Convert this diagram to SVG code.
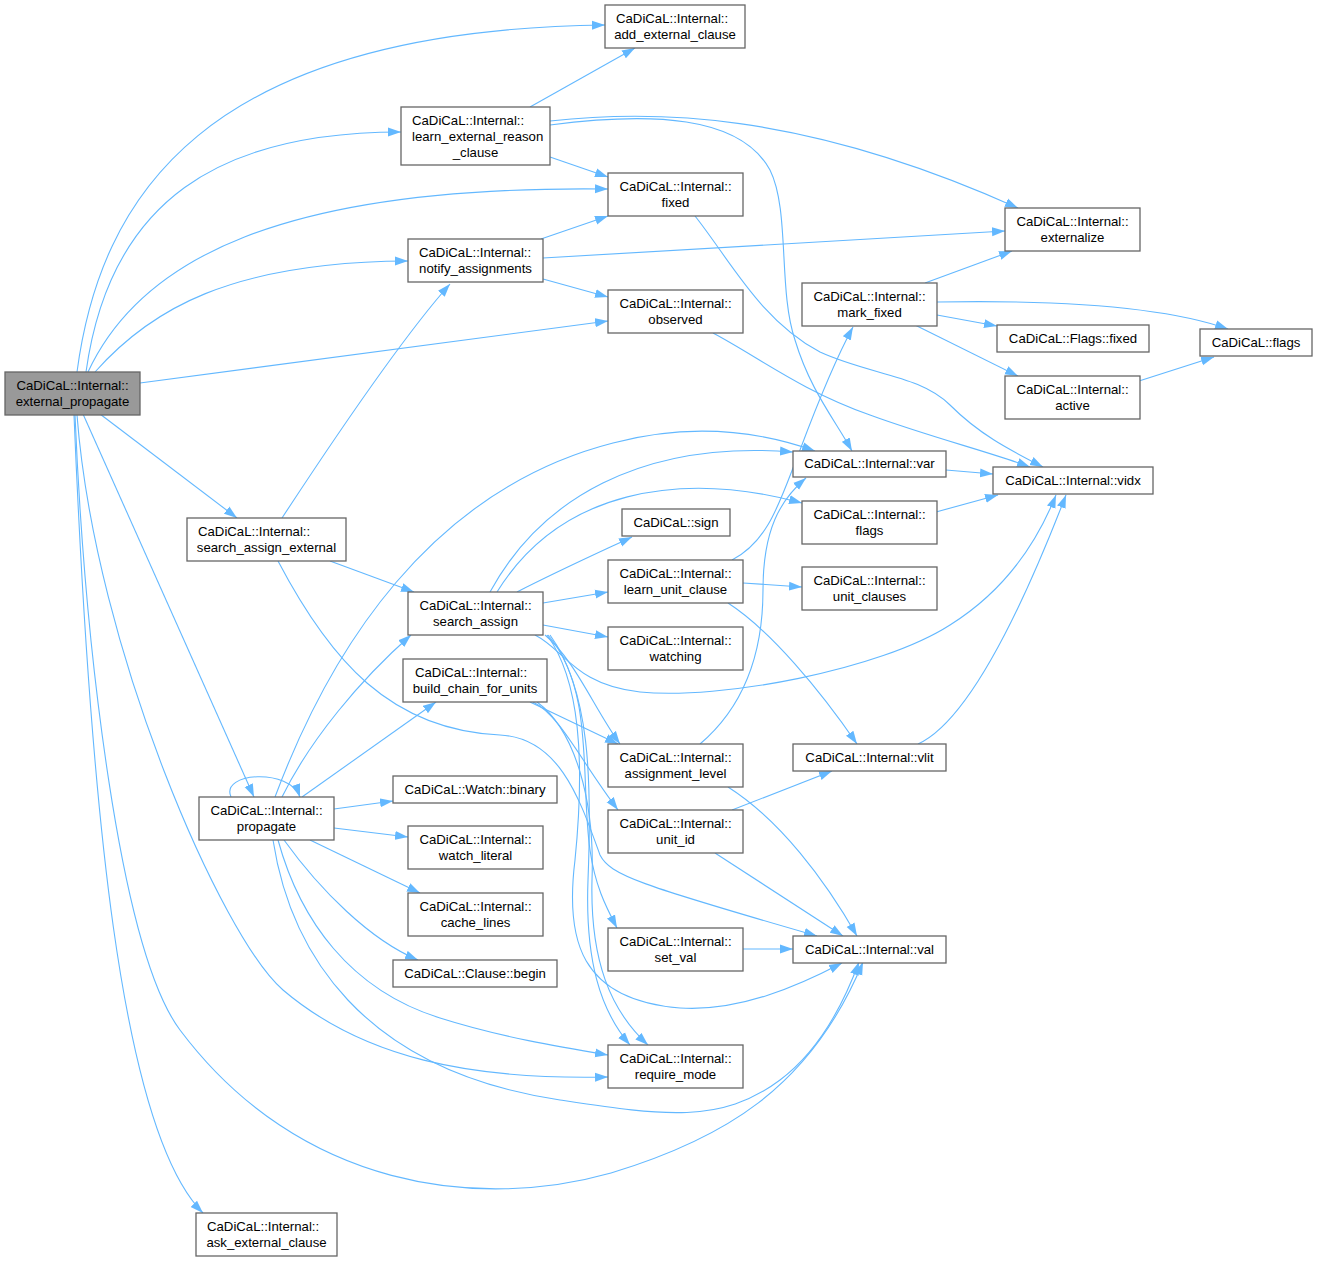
<svg xmlns="http://www.w3.org/2000/svg" width="1317" height="1261" viewBox="0 0 1317 1261">
<style>
.n rect{fill:#ffffff;stroke:#666666;stroke-width:1.3}
.root rect{fill:#999999}
text{font-family:"Liberation Sans",Arial,Helvetica,sans-serif;font-size:13.2px;fill:#000000}
.c{text-anchor:middle}
#edges path{fill:none;stroke:#63b8ff;stroke-width:1.1;marker-end:url(#a)}
</style>
<defs>
<marker id="a" markerWidth="14" markerHeight="10" refX="13" refY="5" orient="auto" markerUnits="userSpaceOnUse"><path d="M0,0.5 L13,5 L0,9.5 z" fill="#63b8ff" stroke="none"/></marker>
</defs>
<rect width="1317" height="1261" fill="#ffffff"/>
<g id="edges">
<path d="M77,372 C100,200 200,30 605,25"/>
<path d="M86,372 C110,200 220,132 401,132"/>
<path d="M88,372 C140,260 280,185 608,189"/>
<path d="M95,372 C150,310 230,262 408,261"/>
<path d="M140,383 L608,321"/>
<path d="M100,414 L237,518"/>
<path d="M83,414 L254,797"/>
<path d="M77,415 C95,650 223,939 283,990 C363,1058 470,1080 608,1077"/>
<path d="M75,415 C85,650 120,950 180,1030 C300,1190 480,1210 611,1173 C720,1140 810,1090 863,962"/>
<path d="M74,415 C90,800 120,1130 203,1213"/>
<path d="M231,797 C220,772 290,768 300,797"/>
<path d="M275,797 C330,650 430,490 613,443 C700,420 770,435 815,451"/>
<path d="M282,797 C310,740 360,680 411,635"/>
<path d="M302,797 L436,702"/>
<path d="M334,809 L393,801"/>
<path d="M334,828 L408,837"/>
<path d="M310,840 L420,893"/>
<path d="M284,840 C320,890 370,940 418,960"/>
<path d="M278,840 C300,920 350,990 440,1018 C500,1037 560,1047 608,1055"/>
<path d="M273,840 C290,950 360,1070 560,1100 C660,1115 720,1125 780,1080 C820,1050 845,1000 859,962"/>
<path d="M282,518 C320,460 400,340 450,284"/>
<path d="M330,561 L414,592"/>
<path d="M278,561 C330,660 390,730 500,735 C560,738 580,800 600,855 C610,875 640,885 817,936"/>
<path d="M490,592 C540,500 640,440 793,452"/>
<path d="M497,592 C560,490 680,470 802,503"/>
<path d="M517,592 C560,570 600,552 632,537"/>
<path d="M543,603 L608,592"/>
<path d="M543,625 L608,637"/>
<path d="M535,635 C565,650 575,685 640,692 C720,700 880,670 950,625 C990,600 1030,560 1056,495"/>
<path d="M545,635 C575,660 595,710 620,744"/>
<path d="M548,635 C595,690 580,780 590,850 C595,885 605,905 617,928"/>
<path d="M550,635 C590,690 592,780 588,880 C585,960 600,1010 630,1045"/>
<path d="M547,635 C580,680 585,760 575,860 C565,940 580,1000 680,1008 C740,1012 800,985 842,963"/>
<path d="M530,702 L618,744"/>
<path d="M533,702 C560,715 580,760 618,810"/>
<path d="M537,702 C575,730 595,800 592,880 C590,960 610,1010 648,1045"/>
<path d="M732,560 C770,540 780,500 800,450 C815,410 835,360 853,327"/>
<path d="M743,583 L802,587"/>
<path d="M728,603 C770,630 820,690 857,744"/>
<path d="M700,744 C740,710 763,660 763,590 C763,530 780,500 806,478"/>
<path d="M728,787 C780,820 825,880 857,936"/>
<path d="M732,810 L832,771"/>
<path d="M715,853 L843,936"/>
<path d="M743,949 L793,949"/>
<path d="M918,744 C960,725 1010,640 1066,495"/>
<path d="M946,470 L993,474"/>
<path d="M936,512 L998,495"/>
<path d="M695,216 C730,260 760,320 820,352 C870,375 920,375 950,405 C980,435 1010,450 1043,467"/>
<path d="M713,333 C760,358 800,390 870,415 C930,437 990,452 1030,467"/>
<path d="M550,125 C650,112 740,115 770,170 C790,210 778,290 795,340 C810,390 835,420 852,451"/>
<path d="M550,121 C650,110 800,110 1018,208"/>
<path d="M530,107 L635,48"/>
<path d="M550,157 L608,177"/>
<path d="M541,239 L608,216"/>
<path d="M543,258 L1005,231"/>
<path d="M543,279 L608,297"/>
<path d="M925,283 L1012,251"/>
<path d="M937,315 L997,326"/>
<path d="M937,302 C1050,300 1160,305 1228,329"/>
<path d="M915,325 L1018,376"/>
<path d="M1139,381 L1214,357"/>
</g>
<g id="n0" class="n root"><rect x="5" y="372" width="135" height="43"/><text class="c" x="72.5" y="390">CaDiCaL::Internal::</text><text class="c" x="72.5" y="406">external_propagate</text></g>
<g id="n1" class="n"><rect x="605" y="5" width="140" height="43"/><text x="616" y="23">CaDiCaL::Internal::</text><text class="c" x="675" y="39">add_external_clause</text></g>
<g id="n2" class="n"><rect x="401" y="107" width="149" height="58"/><text x="412" y="125">CaDiCaL::Internal::</text><text x="412" y="141">learn_external_reason</text><text class="c" x="475.5" y="157">_clause</text></g>
<g id="n3" class="n"><rect x="608" y="173" width="135" height="43"/><text class="c" x="675.5" y="191">CaDiCaL::Internal::</text><text class="c" x="675.5" y="207">fixed</text></g>
<g id="n4" class="n"><rect x="1005" y="208" width="135" height="43"/><text class="c" x="1072.5" y="226">CaDiCaL::Internal::</text><text class="c" x="1072.5" y="242">externalize</text></g>
<g id="n5" class="n"><rect x="408" y="239" width="135" height="43"/><text x="419" y="257">CaDiCaL::Internal::</text><text class="c" x="475.5" y="273">notify_assignments</text></g>
<g id="n6" class="n"><rect x="608" y="290" width="135" height="43"/><text class="c" x="675.5" y="308">CaDiCaL::Internal::</text><text class="c" x="675.5" y="324">observed</text></g>
<g id="n7" class="n"><rect x="802" y="283" width="135" height="43"/><text class="c" x="869.5" y="301">CaDiCaL::Internal::</text><text class="c" x="869.5" y="317">mark_fixed</text></g>
<g id="n8" class="n"><rect x="997" y="325" width="152" height="27"/><text class="c" x="1073" y="343">CaDiCaL::Flags::fixed</text></g>
<g id="n9" class="n"><rect x="1200" y="329" width="112" height="27"/><text class="c" x="1256" y="347">CaDiCaL::flags</text></g>
<g id="n10" class="n"><rect x="1005" y="376" width="135" height="43"/><text class="c" x="1072.5" y="394">CaDiCaL::Internal::</text><text class="c" x="1072.5" y="410">active</text></g>
<g id="n11" class="n"><rect x="793" y="451" width="153" height="26"/><text class="c" x="869.5" y="468">CaDiCaL::Internal::var</text></g>
<g id="n12" class="n"><rect x="993" y="467" width="160" height="27"/><text class="c" x="1073" y="485">CaDiCaL::Internal::vidx</text></g>
<g id="n13" class="n"><rect x="622" y="509" width="108" height="27"/><text class="c" x="676" y="527">CaDiCaL::sign</text></g>
<g id="n14" class="n"><rect x="802" y="501" width="135" height="43"/><text class="c" x="869.5" y="519">CaDiCaL::Internal::</text><text class="c" x="869.5" y="535">flags</text></g>
<g id="n15" class="n"><rect x="187" y="518" width="159" height="43"/><text x="198" y="536">CaDiCaL::Internal::</text><text class="c" x="266.5" y="552">search_assign_external</text></g>
<g id="n16" class="n"><rect x="608" y="560" width="135" height="43"/><text class="c" x="675.5" y="578">CaDiCaL::Internal::</text><text class="c" x="675.5" y="594">learn_unit_clause</text></g>
<g id="n17" class="n"><rect x="802" y="567" width="135" height="43"/><text class="c" x="869.5" y="585">CaDiCaL::Internal::</text><text class="c" x="869.5" y="601">unit_clauses</text></g>
<g id="n18" class="n"><rect x="408" y="592" width="135" height="43"/><text class="c" x="475.5" y="610">CaDiCaL::Internal::</text><text class="c" x="475.5" y="626">search_assign</text></g>
<g id="n19" class="n"><rect x="608" y="627" width="135" height="43"/><text class="c" x="675.5" y="645">CaDiCaL::Internal::</text><text class="c" x="675.5" y="661">watching</text></g>
<g id="n20" class="n"><rect x="403" y="659" width="144" height="43"/><text x="415" y="677">CaDiCaL::Internal::</text><text class="c" x="475" y="693">build_chain_for_units</text></g>
<g id="n21" class="n"><rect x="608" y="744" width="135" height="43"/><text class="c" x="675.5" y="762">CaDiCaL::Internal::</text><text class="c" x="675.5" y="778">assignment_level</text></g>
<g id="n22" class="n"><rect x="793" y="744" width="153" height="27"/><text class="c" x="869.5" y="762">CaDiCaL::Internal::vlit</text></g>
<g id="n23" class="n"><rect x="393" y="776" width="164" height="27"/><text class="c" x="475" y="794">CaDiCaL::Watch::binary</text></g>
<g id="n24" class="n"><rect x="199" y="797" width="135" height="43"/><text class="c" x="266.5" y="815">CaDiCaL::Internal::</text><text class="c" x="266.5" y="831">propagate</text></g>
<g id="n25" class="n"><rect x="408" y="826" width="135" height="43"/><text class="c" x="475.5" y="844">CaDiCaL::Internal::</text><text class="c" x="475.5" y="860">watch_literal</text></g>
<g id="n26" class="n"><rect x="608" y="810" width="135" height="43"/><text class="c" x="675.5" y="828">CaDiCaL::Internal::</text><text class="c" x="675.5" y="844">unit_id</text></g>
<g id="n27" class="n"><rect x="408" y="893" width="135" height="43"/><text class="c" x="475.5" y="911">CaDiCaL::Internal::</text><text class="c" x="475.5" y="927">cache_lines</text></g>
<g id="n28" class="n"><rect x="608" y="928" width="135" height="43"/><text class="c" x="675.5" y="946">CaDiCaL::Internal::</text><text class="c" x="675.5" y="962">set_val</text></g>
<g id="n29" class="n"><rect x="793" y="936" width="153" height="27"/><text class="c" x="869.5" y="954">CaDiCaL::Internal::val</text></g>
<g id="n30" class="n"><rect x="393" y="960" width="164" height="27"/><text class="c" x="475" y="978">CaDiCaL::Clause::begin</text></g>
<g id="n31" class="n"><rect x="608" y="1045" width="135" height="43"/><text class="c" x="675.5" y="1063">CaDiCaL::Internal::</text><text class="c" x="675.5" y="1079">require_mode</text></g>
<g id="n32" class="n"><rect x="196" y="1213" width="141" height="43"/><text x="207" y="1231">CaDiCaL::Internal::</text><text class="c" x="266.5" y="1247">ask_external_clause</text></g>
</svg>
